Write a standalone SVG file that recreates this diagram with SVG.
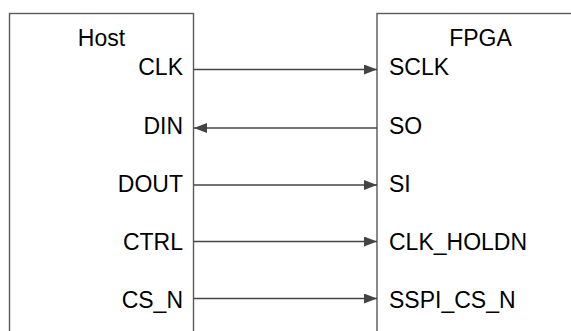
<svg xmlns="http://www.w3.org/2000/svg" width="571" height="331" viewBox="0 0 571 331">
<style>
.box{fill:#ffffff;stroke:#595959;stroke-width:1.4}
.t{font-family:"Liberation Sans",Arial,sans-serif;font-size:23px;fill:#000}
.l{text-anchor:end}
.c{text-anchor:middle}
.w{stroke:#444444;stroke-width:1.4;fill:none}
</style>
<defs>
<marker id="ah" viewBox="0 0 13 10" refX="13" refY="5" markerWidth="13" markerHeight="10" markerUnits="userSpaceOnUse" orient="auto">
<path d="M0,0 L13,5 L0,10 Z" fill="#444444"/>
</marker>
</defs>
<rect width="571" height="331" fill="#ffffff"/>
<g id="host">
<rect class="box" x="9.5" y="13.5" width="184" height="340"/>
<text class="t c" x="101.5" y="46">Host</text>
<text class="t l" x="183" y="75">CLK</text>
<text class="t l" x="183" y="134">DIN</text>
<text class="t l" x="183" y="192">DOUT</text>
<text class="t l" x="183" y="249.5">CTRL</text>
<text class="t l" x="183" y="308">CS_N</text>
</g>
<g id="fpga">
<rect class="box" x="377" y="13.5" width="210" height="340"/>
<text class="t c" x="480.5" y="46">FPGA</text>
<text class="t" x="389" y="75">SCLK</text>
<text class="t" x="389" y="134">SO</text>
<text class="t" x="389" y="192">SI</text>
<text class="t" x="389" y="249.5">CLK_HOLDN</text>
<text class="t" x="389" y="308">SSPI_CS_N</text>
</g>
<g id="connectors">
<line class="w" x1="194" y1="69.5" x2="377" y2="69.5" marker-end="url(#ah)"/>
<line class="w" x1="377" y1="128" x2="194" y2="128" marker-end="url(#ah)"/>
<line class="w" x1="194" y1="185" x2="377" y2="185" marker-end="url(#ah)"/>
<line class="w" x1="194" y1="241.5" x2="377" y2="241.5" marker-end="url(#ah)"/>
<line class="w" x1="194" y1="298.5" x2="377" y2="298.5" marker-end="url(#ah)"/>
</g>
</svg>
